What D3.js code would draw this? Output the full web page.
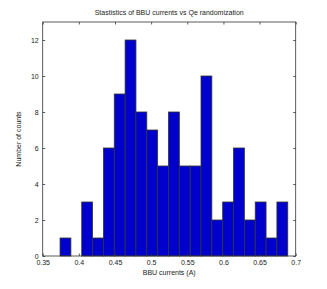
<!DOCTYPE html>
<html>
<head>
<meta charset="utf-8">
<script src="https://cdn.jsdelivr.net/npm/d3@7"></script>
<style>
body { margin: 0; background: #fff; }
svg text { font-family: "Liberation Sans", Arial, sans-serif; fill: #222; }
</style>
</head>
<body>
<svg width="327" height="289"></svg>
<script>
// histogram counts, 21 bins
var binStart = 0.374;
var binWidth = 0.015;
var counts = [1, 0, 3, 1, 6, 9, 12, 8, 7, 5, 8, 5, 5, 10, 2, 3, 6, 2, 3, 1, 3];
var xTicks = [0.35, 0.4, 0.45, 0.5, 0.55, 0.6, 0.65, 0.7];
var yTicks = [0, 2, 4, 6, 8, 10, 12];

var svg = d3.select("svg");
var mLeft = 42.7, mRight = 295.7, mTop = 22, mBottom = 256;

var x = d3.scaleLinear().domain([0.35, 0.7]).range([mLeft, mRight]);
var y = d3.scaleLinear().domain([0, 13]).range([mBottom, mTop]);

var bins = counts.map(function(c, i) {
	return { x0: binStart + i * binWidth, x1: binStart + (i + 1) * binWidth, n: c };
});

svg.append("g")
	.selectAll("rect")
	.data(bins.filter(function(d) { return d.n > 0; }))
	.enter().append("rect")
		.attr("x", function(d) { return x(d.x0); })
		.attr("y", function(d) { return y(d.n); })
		.attr("width", function(d) { return x(d.x1) - x(d.x0); })
		.attr("height", function(d) { return y(0) - y(d.n); })
		.attr("fill", "#0000cc")
		.attr("stroke", "#333")
		.attr("stroke-width", 0.8);

// box
svg.append("rect")
	.attr("x", mLeft).attr("y", mTop)
	.attr("width", mRight - mLeft).attr("height", mBottom - mTop)
	.attr("fill", "none").attr("stroke", "#333").attr("stroke-width", 0.8);

var tl = 2.5;
function styleAxis(g) {
	g.select(".domain").remove();
	g.selectAll("line").attr("stroke", "#333").attr("stroke-width", 0.8);
	g.selectAll("text").style("font-size", "7px").attr("fill", "#222");
}

svg.append("g")
	.attr("transform", "translate(0," + mBottom + ")")
	.call(d3.axisBottom(x).tickValues(xTicks).tickSize(-tl).tickPadding(4).tickFormat(d3.format("")))
	.call(styleAxis);
svg.append("g")
	.attr("transform", "translate(0," + mTop + ")")
	.call(d3.axisTop(x).tickValues(xTicks).tickSize(-tl).tickFormat(""))
	.call(styleAxis);
svg.append("g")
	.attr("transform", "translate(" + mLeft + ",0)")
	.call(d3.axisLeft(y).tickValues(yTicks).tickSize(-tl).tickPadding(4))
	.call(styleAxis);
svg.append("g")
	.attr("transform", "translate(" + mRight + ",0)")
	.call(d3.axisRight(y).tickValues(yTicks).tickSize(-tl).tickFormat(""))
	.call(styleAxis);

svg.append("text")
	.attr("x", (mLeft + mRight) / 2).attr("y", 15)
	.attr("text-anchor", "middle")
	.style("font-size", "7px")
	.text("Stastistics of BBU currents vs Qe randomization");

svg.append("text")
	.attr("x", (mLeft + mRight) / 2).attr("y", 275)
	.attr("text-anchor", "middle")
	.style("font-size", "7px")
	.text("BBU currents (A)");

svg.append("text")
	.attr("transform", "translate(21," + (mTop + mBottom) / 2 + ") rotate(-90)")
	.attr("text-anchor", "middle")
	.style("font-size", "7px")
	.text("Number of counts");
</script>
</body>
</html>
